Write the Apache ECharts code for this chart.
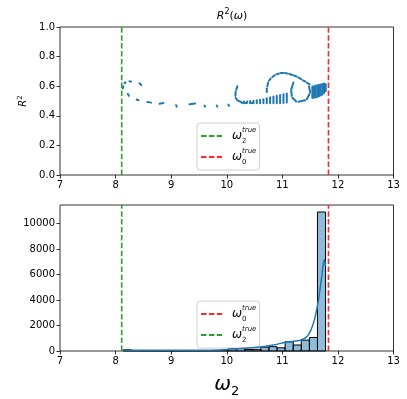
<!DOCTYPE html>
<html lang="en" style="height: 100%">
<head>
  <meta charset="utf-8">
</head>
<body style="height: 100%; margin: 0; background: #fff">
  <div id="container" style="width: 407px; height: 399px"></div>
  <script type="text/javascript" src="https://cdn.jsdelivr.net/npm/echarts@6/dist/echarts.min.js"></script>
  <script type="text/javascript">
    // true frequencies (vertical dashed lines)
    var omega2True = 8.11;
    var omega0True = 11.83;

    // R^2 scatter, drawn as short strokes: [omega1, r2_1, omega2, r2_2]
    var r2Dashes = [
      [8.13, 0.585, 8.14, 0.600],
      [8.16, 0.620, 8.18, 0.626],
      [8.25, 0.634, 8.28, 0.631],
      [8.43, 0.620, 8.46, 0.607],
      [8.22, 0.548, 8.24, 0.535],
      [8.38, 0.510, 8.41, 0.505],
      [8.57, 0.494, 8.64, 0.489],
      [8.79, 0.481, 8.86, 0.487],
      [9.09, 0.471, 9.10, 0.462],
      [9.33, 0.478, 9.43, 0.483],
      [9.60, 0.469, 9.61, 0.462],
      [9.82, 0.470, 9.83, 0.462],
      [10.03, 0.476, 10.04, 0.468],
      // hook near 10.2
      [10.19, 0.600, 10.17, 0.575],
      [10.16, 0.562, 10.155, 0.535],
      [10.16, 0.522, 10.19, 0.505],
      [10.21, 0.500, 10.25, 0.496],
      // fence
      [10.30, 0.485, 10.31, 0.497],
      [10.36, 0.486, 10.37, 0.497],
      [10.42, 0.485, 10.42, 0.500],
      [10.48, 0.484, 10.48, 0.502],
      [10.54, 0.484, 10.54, 0.505],
      [10.60, 0.484, 10.60, 0.508],
      [10.66, 0.484, 10.66, 0.512],
      [10.72, 0.484, 10.72, 0.518],
      [10.78, 0.484, 10.78, 0.525],
      [10.84, 0.484, 10.84, 0.530],
      [10.90, 0.484, 10.90, 0.536],
      [10.96, 0.485, 10.96, 0.540],
      [11.02, 0.486, 11.02, 0.545],
      [11.08, 0.490, 11.08, 0.550],
      [10.26, 0.490, 10.28, 0.488],
      [10.33, 0.487, 10.35, 0.487],
      [10.45, 0.486, 10.47, 0.486],
      // upper arc (dotted)
      [10.72, 0.560, 10.72, 0.585],
      [10.73, 0.600, 10.745, 0.625],
      [10.76, 0.638, 10.79, 0.652],
      [10.82, 0.662, 10.86, 0.673],
      [10.89, 0.680, 10.94, 0.686],
      [10.97, 0.689, 11.02, 0.690],
      [11.05, 0.689, 11.10, 0.685],
      [11.13, 0.682, 11.18, 0.676],
      [11.21, 0.672, 11.26, 0.665],
      [11.29, 0.658, 11.34, 0.648],
      [11.37, 0.640, 11.41, 0.632],
      [11.44, 0.624, 11.49, 0.612],
      // inner U
      [11.20, 0.625, 11.16, 0.578],
      [11.16, 0.568, 11.17, 0.535],
      [11.18, 0.522, 11.25, 0.497],
      [11.29, 0.495, 11.41, 0.505],
      [11.44, 0.512, 11.49, 0.548],
      [11.50, 0.560, 11.48, 0.598],
      // dense blob
      [11.54, 0.520, 11.54, 0.598],
      [11.57, 0.522, 11.57, 0.600],
      [11.60, 0.524, 11.60, 0.604],
      [11.63, 0.527, 11.63, 0.606],
      [11.66, 0.532, 11.66, 0.610],
      [11.69, 0.537, 11.69, 0.612],
      [11.72, 0.543, 11.72, 0.615],
      [11.75, 0.552, 11.75, 0.618],
      [11.78, 0.566, 11.78, 0.614]
    ];

    // histogram of omega_2
    var binEdges = [8.140, 8.286, 8.431, 8.577, 8.722, 8.868, 9.013, 9.159, 9.304,
      9.450, 9.595, 9.741, 9.886, 10.032, 10.177, 10.323, 10.468, 10.614, 10.759,
      10.905, 11.050, 11.196, 11.341, 11.487, 11.632, 11.778];
    var binCounts = [100, 40, 30, 30, 25, 25, 25, 25, 30, 30, 35, 40, 60, 210, 200,
      120, 130, 300, 340, 250, 720, 470, 850, 1060, 10900];

    // kde curve
    var kdeOmega = [8.14, 8.5, 9.0, 9.5, 9.9, 10.1, 10.3, 10.5, 10.7, 10.9, 11.05,
      11.2, 11.35, 11.45, 11.52, 11.58, 11.63, 11.67, 11.71, 11.74, 11.755, 11.775];
    var kdeCount = [80, 60, 50, 50, 80, 150, 220, 280, 380, 520, 680,
      760, 880, 1150, 1700, 2500, 3500, 4600, 5900, 6900, 7150, 6700];

    var histMax = 11450;

    var histData = binCounts.map(function (c, i) {
      return [binEdges[i], binEdges[i + 1], c];
    });
    var kdeData = kdeOmega.map(function (w, i) { return [w, kdeCount[i]]; });

    var GREEN = '#2e9a2e';
    var RED = '#f52a2a';
    var BLUE = '#1f77b4';
    var FONT = 'DejaVu Sans';

    var legendLabels = {
      'g1': '{w|ω}{s|2}{p|true}',
      'r1': '{w|ω}{s|0}{p|true}',
      'r2': '{w|ω}{s|0}{p|true}',
      'g2': '{w|ω}{s|2}{p|true}'
    };
    var legendRich = {
      w: { fontFamily: FONT, fontStyle: 'italic', fontSize: 12, color: '#111', padding: [0, 0, 0, 5], lineHeight: 18 },
      s: { fontFamily: FONT, fontSize: 7, color: '#111', width: 0.01, verticalAlign: 'bottom', lineHeight: 18 },
      p: { fontFamily: FONT, fontStyle: 'italic', fontSize: 7, color: '#111', verticalAlign: 'top', lineHeight: 18 }
    };

    function vline(name, x, yTop, idx, color) {
      return {
        type: 'line', name: name, xAxisIndex: idx, yAxisIndex: idx,
        data: [[x, 0], [x, yTop]], symbol: 'none', silent: true,
        lineStyle: { color: color, width: 1.6, type: [5.5, 2.4] },
        itemStyle: { color: color },
        z: 5
      };
    }

    var axisLabelStyle = { fontFamily: FONT, fontSize: 10, color: '#000' };
    var tickStyle = { show: true, length: 3.5, lineStyle: { color: '#000', width: 0.8 } };

    function legendBox(names, top) {
      return {
        data: names, orient: 'vertical', left: 197, top: top,
        itemWidth: 21, itemHeight: 10, itemGap: 3, padding: [4, 3, 4, 3],
        backgroundColor: 'rgba(255,255,255,0.8)', borderColor: '#d0d0d0', borderWidth: 1, borderRadius: 3,
        itemStyle: { opacity: 0 },
        formatter: function (n) { return legendLabels[n]; },
        textStyle: { rich: legendRich }, selectedMode: false
      };
    }

    var dom = document.getElementById('container');
    var myChart = echarts.init(dom, null, { renderer: 'canvas' });

    var option = {
      animation: false,
      backgroundColor: '#fff',
      title: {
        text: '{i|R}{p|2}{n|(}{i|ω}{n|)}',
        left: 227, top: 3, textAlign: 'center',
        textStyle: {
          fontWeight: 'normal',
          rich: {
            i: { fontFamily: FONT, fontStyle: 'italic', fontWeight: 'normal', fontSize: 11, color: '#000', lineHeight: 16 },
            n: { fontFamily: FONT, fontWeight: 'normal', fontSize: 11, color: '#000', lineHeight: 16 },
            p: { fontFamily: FONT, fontWeight: 'normal', fontSize: 8, color: '#000', verticalAlign: 'top', lineHeight: 16 }
          }
        }
      },
      grid: [
        { left: 60, top: 27, width: 333.5, height: 148, show: true, borderColor: '#000', borderWidth: 0.8, backgroundColor: 'transparent' },
        { left: 60, top: 205, width: 333.5, height: 148, show: true, borderColor: '#000', borderWidth: 0.8, backgroundColor: 'transparent' }
      ],
      xAxis: [
        {
          gridIndex: 0, type: 'value', min: 7, max: 13, interval: 1,
          axisLine: { show: false }, axisTick: tickStyle, splitLine: { show: false },
          axisLabel: Object.assign({ margin: 5 }, axisLabelStyle)
        },
        {
          gridIndex: 1, type: 'value', min: 7, max: 13, interval: 1,
          axisLine: { show: false }, axisTick: tickStyle, splitLine: { show: false },
          axisLabel: Object.assign({ margin: 5 }, axisLabelStyle),
          name: '{w|ω}{s|2}', nameLocation: 'middle', nameGap: 21,
          nameTextStyle: {
            rich: {
              w: { fontFamily: FONT, fontStyle: 'italic', fontSize: 20, color: '#000', lineHeight: 26 },
              s: { fontFamily: FONT, fontSize: 13, color: '#000', verticalAlign: 'bottom', lineHeight: 24 }
            }
          }
        }
      ],
      yAxis: [
        {
          gridIndex: 0, type: 'value', min: 0, max: 1, interval: 0.2,
          axisLine: { show: false }, axisTick: tickStyle, splitLine: { show: false },
          axisLabel: Object.assign({ margin: 5, formatter: function (v) { return v.toFixed(1); } }, axisLabelStyle),
          name: '{i|R}{p|2}', nameLocation: 'middle', nameGap: 26, nameRotate: 90,
          nameTextStyle: {
            rich: {
              i: { fontFamily: FONT, fontStyle: 'italic', fontSize: 10, color: '#000', lineHeight: 14 },
              p: { fontFamily: FONT, fontSize: 7, color: '#000', verticalAlign: 'top', lineHeight: 14 }
            }
          }
        },
        {
          gridIndex: 1, type: 'value', min: 0, max: histMax, interval: 2000,
          axisLine: { show: false }, axisTick: tickStyle, splitLine: { show: false },
          axisLabel: Object.assign({ margin: 5, showMaxLabel: false, formatter: function (v) { return String(v); } }, axisLabelStyle)
        }
      ],
      legend: [legendBox(['g1', 'r1'], 123), legendBox(['r2', 'g2'], 301)],
      series: [
        {
          type: 'custom', name: 'scatter', xAxisIndex: 0, yAxisIndex: 0,
          encode: { x: [0, 2], y: [1, 3] },
          data: r2Dashes,
          renderItem: function (params, api) {
            var p1 = api.coord([api.value(0), api.value(1)]);
            var p2 = api.coord([api.value(2), api.value(3)]);
            return {
              type: 'line',
              shape: { x1: p1[0], y1: p1[1], x2: p2[0], y2: p2[1] },
              style: { stroke: BLUE, lineWidth: 2, lineCap: 'round' }
            };
          }
        },
        vline('g1', omega2True, 1, 0, GREEN),
        vline('r1', omega0True, 1, 0, RED),
        {
          type: 'custom', name: 'hist', xAxisIndex: 1, yAxisIndex: 1,
          encode: { x: [0, 1], y: 2 },
          data: histData,
          renderItem: function (params, api) {
            var a = api.coord([api.value(0), api.value(2)]);
            var b = api.coord([api.value(1), 0]);
            return {
              type: 'rect',
              shape: { x: a[0], y: a[1], width: b[0] - a[0], height: b[1] - a[1] },
              style: { fill: 'rgba(31,119,180,0.5)', stroke: '#000', lineWidth: 1 }
            };
          }
        },
        {
          type: 'line', name: 'kde', xAxisIndex: 1, yAxisIndex: 1,
          data: kdeData, symbol: 'none', smooth: 0.35,
          lineStyle: { color: BLUE, width: 1.5 }, z: 4
        },
        vline('r2', omega0True, histMax, 1, RED),
        vline('g2', omega2True, histMax, 1, GREEN)
      ]
    };

    myChart.setOption(option);
    window.addEventListener('resize', myChart.resize);
  </script>
</body>
</html>
